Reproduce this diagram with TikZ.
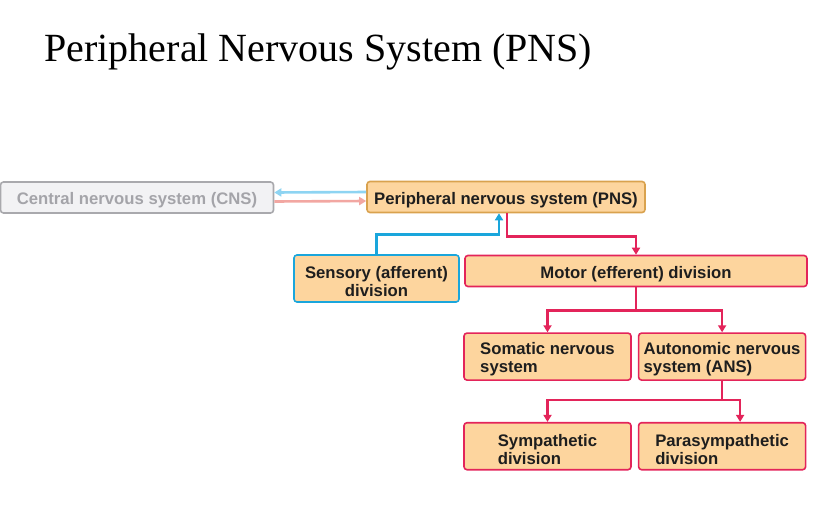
\documentclass[tikz,border=0pt]{standalone}
\usepackage{fontspec}
\setmainfont{Liberation Serif}
\newfontfamily\boxfont{Liberation Sans}
\usepackage{tikz}
\usetikzlibrary{arrows.meta}
\usetikzlibrary{positioning}

\definecolor{boxfill}{HTML}{FDD59E}
\definecolor{pnsedge}{HTML}{D9A24E}
\definecolor{motorred}{HTML}{E3245A}
\definecolor{sensoryblue}{HTML}{1AA6DC}
\definecolor{backblue}{HTML}{8ED4F2}
\definecolor{backpink}{HTML}{F2A7A2}
\definecolor{cnsfill}{HTML}{F2F2F4}
\definecolor{cnsedge}{HTML}{A9A9AD}
\definecolor{cnstext}{HTML}{A4A4A9}
\definecolor{boxtext}{HTML}{1E1E1E}
\newcommand{\boxstrut}{\rule{0pt}{18pt}}

\begin{document}
\begin{tikzpicture}[x=1pt, y=-1pt,
        box/.style={draw, rounded corners=3pt, fill=boxfill, line width=1.6pt, text=boxtext,
            font=\boxfont\bfseries\fontsize{16.7}{18}\selectfont, inner sep=1pt,
            minimum height=31pt, align=center},
        twoline/.style={box, draw=motorred, minimum width=167pt, minimum height=47pt, align=left},
        link/.style={line width=2.6pt, -{Triangle[length=7pt, width=8pt]}}
    ]
        \useasboundingbox (0,0) rectangle (834,522);
        \node[anchor=base west, font=\fontsize{40}{48}\selectfont] (title) at (41,61) {Peripheral Nervous System (PNS)};
        \node[box, draw=pnsedge, minimum width=278pt] (pns) at (506,197) {\boxstrut Peripheral nervous system (PNS)};
        \node[box, draw=cnsedge, fill=cnsfill, text=cnstext, minimum width=273pt] (cns) at (137,197.5) {\boxstrut Central nervous system (CNS)};
        \node[box, draw=sensoryblue, minimum width=165pt, minimum height=47pt] (sensory) at (376.5,278.5) {\boxstrut Sensory (afferent)\\division};
        \node[box, draw=motorred, minimum width=342pt] (motor) at (636,271) {\boxstrut Motor (efferent) division};
        \node[twoline, below=45pt of motor.south west, anchor=north west, xshift=-1pt] (somatic) {\boxstrut Somatic nervous\\system};
        \node[twoline, right=6pt of somatic] (autonomic) {\boxstrut Autonomic nervous\\system (ANS)};
        \node[twoline, below=41pt of somatic] (sympathetic) {\boxstrut Sympathetic\\division};
        \node[twoline, below=41pt of autonomic] (parasym) {\boxstrut Parasympathetic\\division};

        \draw[link, backblue] ([yshift=5pt]pns.west) -- ([yshift=5pt]cns.east);
        \draw[link, backpink] ([yshift=-4pt]cns.east) -- ([yshift=-4pt]pns.west);
        \draw[link, sensoryblue] (sensory.north) -- ++(0,-20) -| ([xshift=-7pt]pns.south);
        \draw[link, motorred] ([xshift=1pt]pns.south) -- ++(0,23) -| (motor.north);
        \draw[link, motorred] (motor.south) -- ++(0,23) -| (somatic.north);
        \draw[link, motorred] (motor.south) -- ++(0,23) -| (autonomic.north);
        \draw[link, motorred] (autonomic.south) -- ++(0,19) -| (sympathetic.north);
        \draw[link, motorred] (autonomic.south) -- ++(0,19) -| ([xshift=18pt]parasym.north);
    \end{tikzpicture}
\end{document}
